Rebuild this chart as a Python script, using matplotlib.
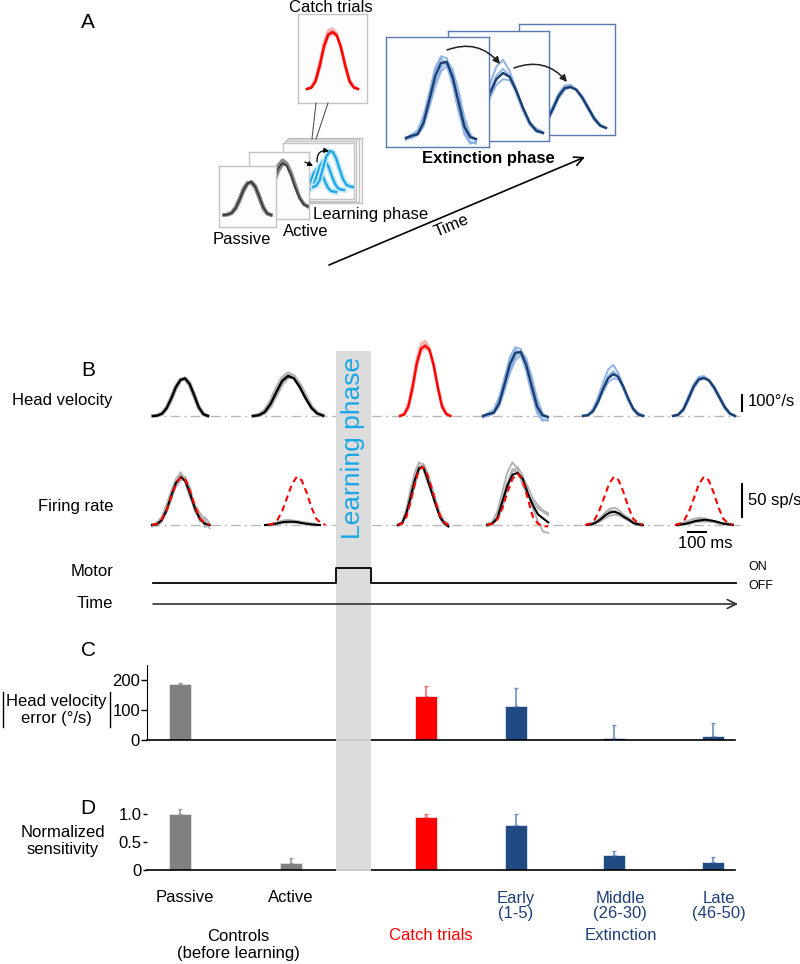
import numpy as np
import matplotlib.pyplot as plt
from matplotlib.patches import Rectangle

plt.rcParams["font.family"] = ["Liberation Sans", "DejaVu Sans"]
plt.rcParams["font.size"] = 12

# ---------- Daten: Balken C/D ----------
conds = ["Passive", "Active", "Catch", "Early", "Middle", "Late"]
hv_err = [187, np.nan, 147, 113, 8, 12]  # Head velocity error (deg/s)
hv_err_sem = [4, np.nan, 32, 60, 42, 45]
sens = [1.0, 0.12, 0.95, 0.81, 0.26, 0.14]  # normalized sensitivity
sens_sem = [0.09, 0.09, 0.05, 0.19, 0.08, 0.10]

# ---------- Daten: Head velocity (deg/s), 13 Samples pro Trace ----------
hv_dur = [305, 390, 280, 360, 335, 345]  # ms
hv_passive = [0, 3, 15, 50, 110, 180, 225, 235, 200, 130, 55, 12, 0]
hv_passive_tr = [
    [0, 5, 20, 58, 120, 188, 230, 232, 192, 120, 48, 10, 2],
    [2, 2, 12, 44, 100, 170, 220, 238, 208, 140, 62, 15, 0],
    [0, 4, 18, 55, 118, 186, 228, 230, 196, 125, 50, 8, 0],
]
hv_active = [0, 5, 25, 75, 150, 220, 250, 235, 180, 110, 50, 15, 2]
hv_active_tr = [
    [0, 8, 35, 95, 175, 240, 268, 250, 195, 120, 55, 18, 5],
    [2, 4, 18, 60, 130, 200, 240, 245, 200, 130, 60, 20, 4],
    [0, 6, 28, 82, 160, 228, 258, 240, 185, 115, 52, 14, 0],
]
hv_catch = [0, 10, 60, 180, 330, 420, 440, 415, 320, 180, 60, 12, 0]
hv_catch_tr = [
    [5, 20, 85, 215, 365, 455, 470, 430, 330, 190, 70, 20, 5],
    [0, 5, 45, 150, 300, 400, 425, 405, 335, 200, 80, 25, 0],
    [0, 12, 70, 200, 350, 440, 455, 420, 300, 160, 50, 10, 0],
]
hv_early = [0, 12, 20, 80, 200, 325, 395, 400, 320, 190, 60, 5, -5]
hv_early_tr = [
    [-10, 15, 30, 110, 240, 370, 430, 420, 300, 150, 20, -30, -20],
    [5, 10, 20, 70, 170, 290, 370, 410, 360, 240, 90, 0, -10],
    [0, 20, 40, 120, 230, 350, 420, 380, 280, 140, 40, -20, -30],
    [-5, 0, 15, 60, 160, 270, 350, 380, 350, 250, 110, 20, -15],
]
hv_middle = [0, 5, 30, 90, 170, 235, 262, 245, 185, 110, 45, 10, 0]
hv_middle_tr = [
    [0, 10, 45, 120, 210, 290, 320, 270, 190, 100, 35, 5, 0],
    [0, 5, 25, 80, 150, 210, 235, 230, 180, 110, 50, 15, 0],
    [5, 8, 35, 100, 180, 250, 280, 250, 170, 95, 40, 20, 5],
]
hv_late = [0, 8, 40, 110, 185, 230, 237, 220, 175, 115, 55, 15, 0]
hv_late_tr = [
    [0, 10, 50, 125, 200, 245, 250, 225, 170, 105, 45, 10, 0],
    [2, 5, 32, 95, 170, 220, 235, 225, 185, 125, 65, 20, 2],
    [0, 8, 42, 115, 190, 238, 245, 218, 165, 108, 50, 12, 0],
]

# ---------- Daten: Firing rate (sp/s) ----------
fr_dur = [320, 305, 280, 340, 310, 310]  # ms
fr_template = [0, 2, 8, 22, 42, 62, 73, 68, 50, 28, 10, 3, 0]  # rot gestrichelt
fr_catch_pred = [0, 2, 12, 35, 62, 84, 88, 76, 56, 34, 14, 4, 0]
fr_early_pred = [0, 2, 8, 25, 50, 70, 78, 68, 40, 12, 2, -2, -2]
fr_passive = [0, 1, 7, 22, 44, 64, 73, 66, 46, 24, 9, 2, 0]
fr_passive_tr = [
    [-3, 4, 12, 30, 52, 70, 80, 62, 40, 30, 18, 8, -5],
    [2, -2, 5, 18, 38, 60, 76, 72, 55, 22, 5, 12, 3],
    [0, 3, 10, 25, 48, 58, 68, 70, 42, 20, 15, -3, 0],
]
fr_active = [0, 0.5, 1.5, 3, 4.5, 5, 5, 4.5, 3, 2, 1, 0.5, 0]
fr_active_tr = [
    [0, 1, 3, 5, 7, 8, 7, 6, 5, 4, 3, 1, 0],
    [0, 0, 1, 2, 3, 4, 4, 3, 2, 1, 1, 0, 0],
    [0, -1, 0, 2, 3, 3, 4, 4, 3, 2, 0, -1, 0],
]
fr_catch = [0, 3, 18, 42, 68, 86, 88, 70, 50, 30, 12, 3, -2]
fr_catch_tr = [
    [0, 5, 25, 55, 80, 95, 90, 75, 55, 35, 15, 5, 0],
    [2, 4, 15, 35, 60, 82, 93, 80, 60, 38, 18, 6, 2],
    [-2, 2, 20, 48, 72, 90, 85, 65, 48, 32, 10, 0, -3],
]
fr_early = [0, 2, 10, 35, 60, 76, 79, 70, 48, 30, 16, 10, 4]
fr_early_tr = [
    [0, 5, 20, 50, 80, 95, 85, 60, 45, 35, 25, 20, 15],
    [-2, 0, 8, 25, 55, 80, 88, 75, 50, 25, 5, -10, -12],
    [2, 3, 12, 40, 65, 85, 80, 72, 58, 40, 30, 22, 18],
]
fr_middle = [0, 1, 4, 9, 15, 19, 20, 17, 12, 8, 3, 1, 0]
fr_middle_tr = [
    [0, 2, 6, 12, 20, 25, 26, 22, 15, 10, 5, 2, 0],
    [0, 0, 3, 6, 11, 14, 16, 14, 10, 6, 2, 0, -2],
    [2, 2, 5, 10, 17, 22, 21, 18, 13, 9, 4, 3, 2],
]
fr_late = [0, 1, 2, 4, 6, 7, 8, 7, 6, 4, 2, 1, 0]
fr_late_tr = [
    [2, 3, 5, 8, 10, 11, 10, 8, 6, 4, 3, 3, 2],
    [-1, 0, 1, 2, 4, 5, 5, 5, 4, 2, 1, 0, 0],
    [1, 2, 3, 5, 7, 9, 9, 8, 5, 3, 2, 1, 1],
]

# ---------- Daten: Lernphase (Schema A) ----------
lrn_bells = [
    [0, 4, 20, 55, 85, 100, 95, 75, 45, 20, 6, 2, 0],
    [0, 5, 25, 70, 110, 130, 125, 100, 60, 28, 8, 2, 0],
    [0, 6, 30, 85, 135, 160, 155, 125, 78, 35, 10, 3, 0],
]
motor_state = [0, 1, 0]  # OFF / ON / OFF

# ---------- Farben ----------
RED = "#ff0000"
NAVY = "#1c3d70"
BLUE_BAR = "#1f4a82"
LIGHT_BLUE = "#8fb3e6"
CYAN = "#1aa7e5"
TXT_BLUE = "#1f3f77"

# ---------- Layout (Pixel) ----------
W, H = 800, 964
fig = plt.figure(figsize=(W / 100, H / 100), dpi=100)


def px_rect(l, t, w, h):
    return [l / W, 1 - (t + h) / H, w / W, h / H]


def box(rect, edge, z, face="#fdfdfd"):
    ax = fig.add_axes(px_rect(*rect), zorder=z)
    ax.set_xticks([])
    ax.set_yticks([])
    ax.set_facecolor(face)
    for s in ax.spines.values():
        s.set_edgecolor(edge)
        s.set_linewidth(1)
    return ax


def fit(ax, rect, dur, peak, on, end, base, top):
    l, t, w, h = rect
    sx = dur / (end - on)
    sy = peak / (base - top)
    ax.set_xlim((l - on) * sx, (l + w - on) * sx)
    ax.set_ylim((base - t - h) * sy, (base - t) * sy)


def draw(ax, dur, trials, mean, tc, mc, tlw, mlw, x0=0):
    tt = np.linspace(0, dur, len(mean)) + x0
    for tr in trials:
        ax.plot(tt, tr, color=tc, lw=tlw, solid_joinstyle="round")
    ax.plot(tt, mean, color=mc, lw=mlw, solid_joinstyle="round")


# ---------- A: Lernphase-Stapel ----------
stack = [(289, 138, 73, 65), (287, 139, 72, 63), (285, 141, 71, 60), (283, 143, 71, 56)]
for i, r in enumerate(stack):
    box(r, "#c4c4c4", 1 + i)
front = stack[-1]
lrn_on = [(303, 336), (308, 344), (313, 353)]
lrn_base = [192, 190, 187]
lrn_top = [169, 161, 151]
for i, b in enumerate(lrn_bells):
    a = fig.add_axes(px_rect(*front), zorder=5)
    a.axis("off")
    tt = np.linspace(0, 300, len(b))
    a.plot(tt, b, color="#bfe5f6", lw=4)
    a.plot(tt, b, color=CYAN, lw=1.6)
    fit(a, front, 300, max(b), lrn_on[i][0], lrn_on[i][1], lrn_base[i], lrn_top[i])

# Active
r = (249, 152, 60, 67)
ax = box(r, "#c4c4c4", 6)
draw(ax, hv_dur[1], hv_active_tr, hv_active, "#8c8c8c", "#3c3c3c", 2.2, 1.3)
fit(ax, r, hv_dur[1], hv_active[6], 257, 308, 207, 163)

# Passive
r = (219, 166, 57, 61)
ax = box(r, "#c4c4c4", 7)
draw(ax, hv_dur[0], hv_passive_tr, hv_passive, "#8c8c8c", "#3c3c3c", 2.5, 1.4)
fit(ax, r, hv_dur[0], hv_passive[7], 224, 271, 215, 182)

# Catch trials
r = (298, 14, 69, 89)
ax = box(r, "#c4c4c4", 4)
draw(ax, hv_dur[2], hv_catch_tr, hv_catch, "#f2b0b0", RED, 1.6, 1.8)
fit(ax, r, hv_dur[2], hv_catch[6], 307, 358, 89, 32)

# Extinktion
ext = [
    ((519, 24, 96, 111), hv_dur[5], hv_late_tr, hv_late, 6, (535, 606, 128, 87)),
    ((448, 31, 101, 110), hv_dur[4], hv_middle_tr, hv_middle, 6, (463, 543, 133, 73)),
    ((386, 37, 103, 110), hv_dur[3], hv_early_tr, hv_early, 7, (406, 476, 138, 62)),
]
for z, (r, d, tr, m, ip, p) in enumerate(ext):
    ax = box(r, "#5a7bb0", 1 + z)
    draw(ax, d, tr, m, LIGHT_BLUE, NAVY, 1.4, 1.7)
    fit(ax, r, d, m[ip], *p)

# ---------- B: Traces ----------
ms_px = 100 / 18  # 100 ms = 18 px
row_l, row_w = 140, 620


def px2ms(x):
    return (x - row_l) * ms_px


hv_ax = fig.add_axes(px_rect(row_l, 330, row_w, 105), zorder=1)
hv_ax.axis("off")
hv_ax.set_xlim(0, row_w * ms_px)
hv_upp = 100 / 16  # deg/s pro px
hv_ax.set_ylim((416 - 435) * hv_upp, (416 - 330) * hv_upp)

fr_ax = fig.add_axes(px_rect(row_l, 445, row_w, 115), zorder=1)
fr_ax.axis("off")
fr_ax.set_xlim(0, row_w * ms_px)
fr_upp = 50 / 33
fr_ax.set_ylim((525 - 560) * fr_upp, (525 - 445) * fr_upp)

dashdot = (0, (7, 3, 1.5, 3))
for a in (hv_ax, fr_ax):
    a.plot([px2ms(150), px2ms(740)], [0, 0], color="#b8b8b8", lw=1, ls=dashdot)

hv_on_px = [153, 253, 400, 483, 583, 673]
hv_sets = [
    (hv_passive_tr, hv_passive, "#b4b4b4", "black", 2.4),
    (hv_active_tr, hv_active, "#b4b4b4", "black", 2.4),
    (hv_catch_tr, hv_catch, "#f2b0b0", RED, 1.5),
    (hv_early_tr, hv_early, LIGHT_BLUE, NAVY, 1.4),
    (hv_middle_tr, hv_middle, LIGHT_BLUE, NAVY, 1.4),
    (hv_late_tr, hv_late, LIGHT_BLUE, NAVY, 1.4),
]
for i, (tr, m, tc, mc, tlw) in enumerate(hv_sets):
    draw(hv_ax, hv_dur[i], tr, m, tc, mc, tlw, 1.7, x0=px2ms(hv_on_px[i]))

fr_on_px = [152, 265, 398, 487, 587, 677]
fr_sets = [
    (fr_passive_tr, fr_passive),
    (fr_active_tr, fr_active),
    (fr_catch_tr, fr_catch),
    (fr_early_tr, fr_early),
    (fr_middle_tr, fr_middle),
    (fr_late_tr, fr_late),
]
for i, (tr, m) in enumerate(fr_sets):
    draw(fr_ax, fr_dur[i], tr, m, "#b0b0b0", "black", 1.3, 1.5, x0=px2ms(fr_on_px[i]))

red_on_px = [152, 268, 398, 487, 585, 675]
red_curves = [fr_template, fr_template, fr_catch_pred, fr_early_pred, fr_template, fr_template]
red_dur = [320, 320, 280, 340, 320, 320]
for i, c in enumerate(red_curves):
    tt = np.linspace(0, red_dur[i], len(c)) + px2ms(red_on_px[i])
    fr_ax.plot(tt, c, color=RED, lw=1.5, ls=(0, (3, 2)))

# Skalenbalken
hv_ax.plot([px2ms(742)] * 2, [30, 130], color="black", lw=1.5)
fr_ax.plot([px2ms(742)] * 2, [12, 62], color="black", lw=1.5)
fr_ax.plot([px2ms(688), px2ms(688) + 100], [-10.6, -10.6], color="black", lw=1.5)

# ---------- C / D: Balken ----------
bar_x = [180, 291, 426, 516, 614, 713]
bar_c = ["#808080", "#808080", RED, BLUE_BAR, BLUE_BAR, BLUE_BAR]
err_c = ["#9a9a9a", "#9a9a9a", "#ff6a6a", "#6f8fc0", "#6f8fc0", "#6f8fc0"]

axC = fig.add_axes(px_rect(147, 665, 588, 75), zorder=1)
axD = fig.add_axes(px_rect(147, 808, 588, 62), zorder=1)
for a, vals, sems in ((axC, hv_err, hv_err_sem), (axD, sens, sens_sem)):
    a.set_xlim(147, 735)
    a.set_facecolor("none")
    for i in range(len(conds)):
        if np.isnan(vals[i]):
            continue
        a.bar(bar_x[i], vals[i], width=22, color=bar_c[i], edgecolor="#dfe6f2",
              linewidth=0.6, zorder=2)
        a.errorbar(bar_x[i], vals[i], yerr=[[0], [sems[i]]], fmt="none",
                   ecolor=err_c[i], elinewidth=1.2, capsize=1.5, capthick=1,
                   zorder=3, clip_on=False)
    a.spines["top"].set_visible(False)
    a.spines["right"].set_visible(False)
    a.spines["bottom"].set_linewidth(1.2)
    a.set_xticks([])
    a.tick_params(axis="y", length=4, width=1, labelsize=12, pad=1)

axC.set_ylim(0, 250)
axC.set_yticks([0, 100, 200])
axC.set_yticklabels(["0", "100", "200"])
axD.set_ylim(0, 62 / 56)
axD.set_yticks([0, 0.5, 1.0])
axD.set_yticklabels(["0", "0.5", "1.0"])
axD.spines["left"].set_visible(False)
axD.tick_params(axis="y", length=3)

# ---------- Overlay: Band, Motor, Text ----------
ov = fig.add_axes([0, 0, 1, 1], zorder=20)
ov.set_xlim(0, W)
ov.set_ylim(H, 0)
ov.axis("off")
ov.patch.set_alpha(0)

ov.add_patch(Rectangle((336, 351), 35, 520, facecolor="#d9d9d9", edgecolor="none",
                       alpha=0.92, zorder=0))
ov.text(353, 448, "Learning phase", rotation=90, color=CYAN, fontsize=19,
        ha="center", va="center")

motor_edges = [153, 336, 371, 736]
ov.step(motor_edges, [583 - 15 * s for s in motor_state + motor_state[-1:]],
        where="post", color="black", lw=1.3)
ov.annotate("", xy=(738, 604), xytext=(153, 604),
            arrowprops=dict(arrowstyle="->", lw=1.2, color="#333333",
                            mutation_scale=16, shrinkA=0, shrinkB=0))

# Panel A Pfeile und Linien
ov.plot([316, 312], [103, 139], color="#555555", lw=0.8)
ov.plot([328, 316], [103, 139], color="#555555", lw=0.8)
for p0, p1 in (((447, 50), (500, 64)), ((514, 68), (567, 82))):
    ov.annotate("", xy=p1, xytext=p0,
                arrowprops=dict(arrowstyle="-|>", connectionstyle="arc3,rad=-0.35",
                                lw=1.1, color="#222222", mutation_scale=10,
                                shrinkA=0, shrinkB=0))
ov.annotate("", xy=(329, 151), xytext=(317, 162),
            arrowprops=dict(arrowstyle="-|>", connectionstyle="arc3,rad=-0.6",
                            lw=0.9, color="black", mutation_scale=7,
                            shrinkA=0, shrinkB=0))
ov.annotate("", xy=(313, 166), xytext=(305, 162),
            arrowprops=dict(arrowstyle="-|>", lw=0.9, color="black",
                            mutation_scale=7, shrinkA=0, shrinkB=0))
ov.annotate("", xy=(585, 157), xytext=(329, 265),
            arrowprops=dict(arrowstyle="->", lw=1.2, color="black",
                            mutation_scale=16, shrinkA=0, shrinkB=0))

# Texte A
ov.text(88, 22, "A", fontsize=15, ha="center", va="center")
ov.text(331, 7, "Catch trials", ha="center", va="center")
ov.text(488, 159, "Extinction phase", fontweight="bold", ha="center", va="center")
ov.text(313, 214, "Learning phase", ha="left", va="center")
ov.text(283, 231, "Active", ha="left", va="center")
ov.text(213, 239, "Passive", ha="left", va="center")
ov.text(452, 226, "Time", rotation=23, ha="center", va="center",
        rotation_mode="anchor")

# Texte B
ov.text(88, 370, "B", fontsize=15, ha="center", va="center")
for lab, y in (("Head velocity", 400), ("Firing rate", 507), ("Motor", 572), ("Time", 603)):
    ov.text(113, y, lab, ha="right", va="center")
ov.text(748, 401, "100°/s", ha="left", va="center")
ov.text(748, 500, "50 sp/s", ha="left", va="center")
ov.text(705, 544, "100 ms", ha="center", va="center")
ov.text(748, 567, "ON", ha="left", va="center", fontsize=9)
ov.text(748, 586, "OFF", ha="left", va="center", fontsize=9)

# Texte C / D
ov.text(88, 650, "C", fontsize=15, ha="center", va="center")
ov.text(56, 710, "Head velocity\nerror (°/s)", ha="center", va="center", linespacing=1.15)
ov.plot([3, 3], [692, 727], color="black", lw=1)
ov.plot([110, 110], [692, 727], color="black", lw=1)
ov.text(88, 808, "D", fontsize=15, ha="center", va="center")
ov.text(63, 841, "Normalized\nsensitivity", ha="center", va="center", linespacing=1.15)

ov.text(185, 898, "Passive", ha="center", va="center")
ov.text(291, 898, "Active", ha="center", va="center")
ov.text(516, 906, "Early\n(1-5)", ha="center", va="center", color=TXT_BLUE, linespacing=1.0)
ov.text(620, 906, "Middle\n(26-30)", ha="center", va="center", color=TXT_BLUE, linespacing=1.0)
ov.text(719, 906, "Late\n(46-50)", ha="center", va="center", color=TXT_BLUE, linespacing=1.0)
ov.text(238, 945, "Controls\n(before learning)", ha="center", va="center", linespacing=1.2)
ov.text(431, 935, "Catch trials", ha="center", va="center", color=RED)
ov.text(621, 935, "Extinction", ha="center", va="center", color=TXT_BLUE)

fig.savefig("out.png", dpi=100)
